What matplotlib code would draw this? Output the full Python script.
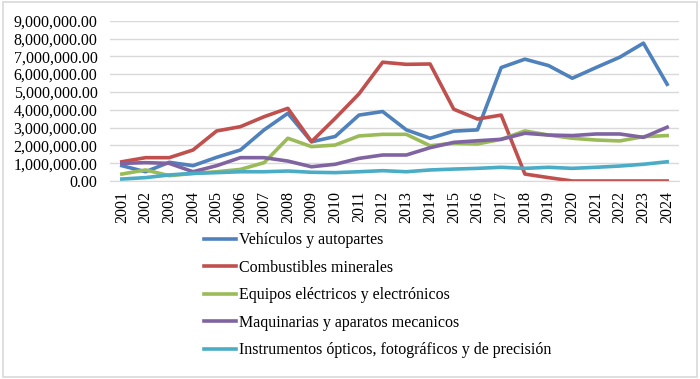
import numpy as np
import matplotlib
matplotlib.use("Agg")
import matplotlib.pyplot as plt
from matplotlib.ticker import FuncFormatter
from matplotlib.patches import Rectangle

years = [str(y) for y in range(2001, 2025)]

vehiculos = [0.86, 0.52, 1.05, 0.86, 1.33, 1.74, 2.87, 3.80, 2.20, 2.50, 3.70, 3.90,
             2.87, 2.40, 2.80, 2.87, 6.37, 6.84, 6.48, 5.77, 6.37, 6.95, 7.74, 5.43]
combustibles = [1.08, 1.31, 1.31, 1.74, 2.81, 3.05, 3.61, 4.08, 2.21, 3.52, 4.89, 6.67,
                6.55, 6.57, 4.03, 3.48, 3.70, 0.39, 0.19, 0.0, 0.0, 0.0, 0.0, 0.0]
equipos = [0.39, 0.62, 0.30, 0.42, 0.52, 0.65, 1.03, 2.40, 1.93, 2.02, 2.53, 2.62,
           2.62, 1.98, 2.12, 2.08, 2.34, 2.81, 2.58, 2.40, 2.30, 2.25, 2.49, 2.55]
maquinarias = [0.99, 1.03, 0.99, 0.52, 0.86, 1.31, 1.31, 1.12, 0.80, 0.94, 1.27, 1.46,
               1.46, 1.87, 2.17, 2.26, 2.34, 2.68, 2.58, 2.55, 2.64, 2.64, 2.45, 3.02]
instrumentos = [0.11, 0.19, 0.34, 0.43, 0.47, 0.52, 0.52, 0.56, 0.49, 0.47, 0.52, 0.58,
                0.52, 0.62, 0.67, 0.71, 0.77, 0.71, 0.77, 0.71, 0.77, 0.84, 0.94, 1.08]

series = [
    ("Vehículos y autopartes", vehiculos, "#4F81BD"),
    ("Combustibles minerales", combustibles, "#C0504D"),
    ("Equipos eléctricos y electrónicos", equipos, "#9BBB59"),
    ("Maquinarias y aparatos mecanicos", maquinarias, "#8064A2"),
    ("Instrumentos ópticos, fotográficos y de precisión", instrumentos, "#4BACC6"),
]

plt.rcParams['font.family'] = ['Liberation Serif', 'DejaVu Serif']

fig = plt.figure(figsize=(7, 3.79), dpi=100)
fig.patches.append(Rectangle((0.004, 0.004), 0.992, 0.992, transform=fig.transFigure,
                             fill=False, edgecolor="#D9D9D9", linewidth=1.2))

ax = fig.add_axes([110 / 700, 1 - 181 / 379, 569 / 700, (181 - 20.7) / 379])

x = np.arange(len(years))
for name, vals, col in series:
    ax.plot(x, np.array(vals) * 1e6, color=col, linewidth=2.6, label=name,
            solid_joinstyle="round")

ax.set_xlim(-0.5, len(years) - 0.5)
ax.set_ylim(0, 9e6)
ax.set_yticks(np.arange(0, 9.1e6, 1e6))
ax.yaxis.set_major_formatter(FuncFormatter(lambda v, p: "{:,.2f}".format(v)))
ax.set_xticks(x)
ax.set_xticklabels(years, rotation=90)
ax.tick_params(axis="both", length=0, labelsize=11.5, colors="black")
ax.tick_params(axis="x", pad=7)
ax.tick_params(axis="y", pad=9)
ax.grid(axis="y", color="#D9D9D9", linewidth=1)
ax.set_axisbelow(True)
for s in ["left", "right", "top"]:
    ax.spines[s].set_visible(False)
ax.spines["bottom"].set_color("#D9D9D9")

fig.legend(loc="upper left", bbox_to_anchor=(190 / 700, 1 - 218 / 379), frameon=False,
           fontsize=11.5, handlelength=2.0, handletextpad=0.15, labelspacing=0.72)

fig.savefig("out.png", dpi=100)
